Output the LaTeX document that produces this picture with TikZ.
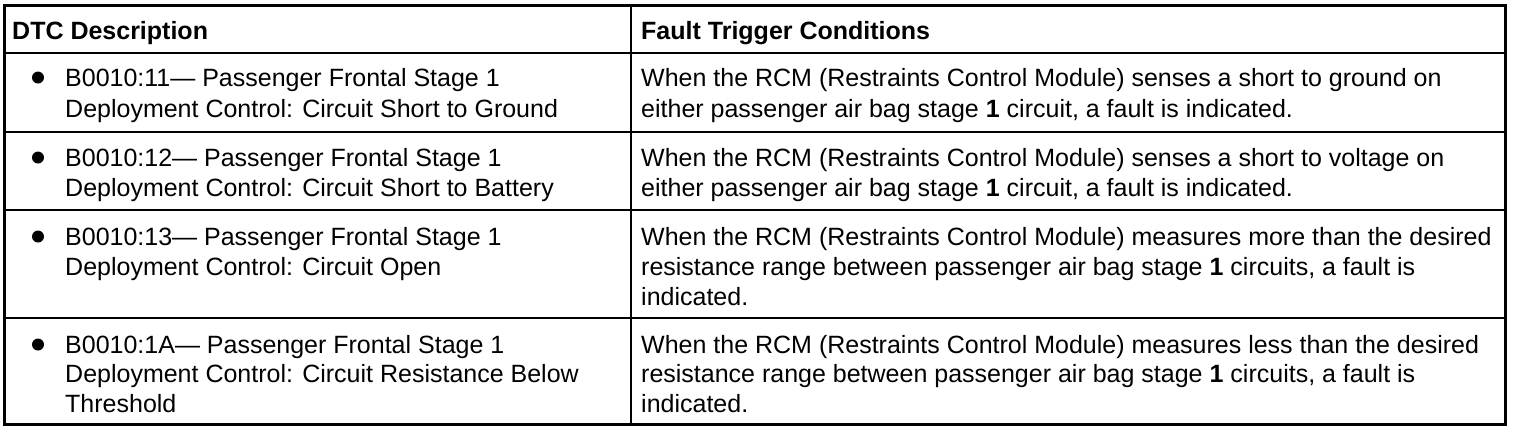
\documentclass[tikz,border=0pt]{standalone}
\usepackage{fontspec}
\setmainfont{Liberation Sans}
\begin{document}
\begin{tikzpicture}[x=1pt,y=-1pt,
  cell/.style={anchor=base west,inner sep=0pt,font=\fontsize{25}{30}\selectfont},
  head/.style={cell,font=\fontsize{25}{30}\selectfont\bfseries},
  outer/.style={line width=3pt},
  grid/.style={line width=2pt},
  dot/.style={circle,fill=black,inner sep=0pt,minimum size=12pt}]
\useasboundingbox (0,0) rectangle (1520,432);
% grid
\draw[grid] (4.5,53) -- (1505.5,53);
\draw[grid] (4.5,132) -- (1505.5,132);
\draw[grid] (4.5,210) -- (1505.5,210);
\draw[grid] (4.5,318) -- (1505.5,318);
\draw[grid] (631,5.5) -- (631,424.5);
\draw[outer] (4.5,5.5) rectangle (1505.5,424.5);
% header
\node[head] (h1) at (12,39) {DTC Description};
\node[head] (h2) at (641,39) {Fault Trigger Conditions};
% row 1
\node[dot] (b1) at (38,77.5) {};
\node[cell] (l1a) at (65,86) {B0010:11— Passenger Frontal Stage 1};
\node[cell] (l1b) at (65,117) {Deployment Control: Circuit Short to Ground};
\node[cell] (r1a) at (641,86) {When the RCM (Restraints Control Module) senses a short to ground on};
\node[cell] (r1b) at (641,117) {either passenger air bag stage \textbf{1} circuit, a fault is indicated.};
% row 2
\node[dot] (b2) at (38,157.5) {};
\node[cell] (l2a) at (65,166) {B0010:12— Passenger Frontal Stage 1};
\node[cell] (l2b) at (65,196) {Deployment Control: Circuit Short to Battery};
\node[cell] (r2a) at (641,166) {When the RCM (Restraints Control Module) senses a short to voltage on};
\node[cell] (r2b) at (641,196) {either passenger air bag stage \textbf{1} circuit, a fault is indicated.};
% row 3
\node[dot] (b3) at (38,236.5) {};
\node[cell] (l3a) at (65,245) {B0010:13— Passenger Frontal Stage 1};
\node[cell] (l3b) at (65,275) {Deployment Control: Circuit Open};
\node[cell] (r3a) at (641,245) {When the RCM (Restraints Control Module) measures more than the desired};
\node[cell] (r3b) at (641,275) {resistance range between passenger air bag stage \textbf{1} circuits, a fault is};
\node[cell] (r3c) at (641,305) {indicated.};
% row 4
\node[dot] (b4) at (38,344.5) {};
\node[cell] (l4a) at (65,353) {B0010:1A— Passenger Frontal Stage 1};
\node[cell] (l4b) at (65,382) {Deployment Control: Circuit Resistance Below};
\node[cell] (l4c) at (65,412) {Threshold};
\node[cell] (r4a) at (641,353) {When the RCM (Restraints Control Module) measures less than the desired};
\node[cell] (r4b) at (641,382) {resistance range between passenger air bag stage \textbf{1} circuits, a fault is};
\node[cell] (r4c) at (641,412) {indicated.};
\end{tikzpicture}
\end{document}
